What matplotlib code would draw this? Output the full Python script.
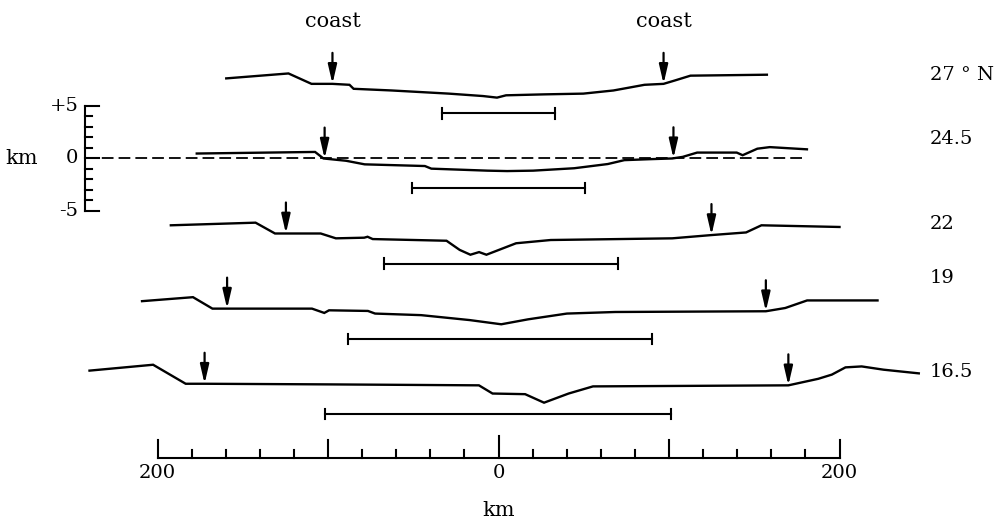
import numpy as np
import matplotlib
matplotlib.use("Agg")
import matplotlib.pyplot as plt

# ---------------- data ----------------
latitudes = ["27 ° N", "24.5", "22", "19", "16.5"]

dist_27 = [-159.7, -123.2, -109.7, -97.4, -87.4, -85.0, -62.6, -29.1, -9.1, -0.9, 4.4,
           26.8, 49.7, 67.4, 76.2, 85.6, 96.8, 103.2, 112.6, 157.4]
elev_27 = [0.52, 0.99, 0.0, 0.0, -0.09, -0.47, -0.63, -0.93, -1.16, -1.31, -1.09,
           -1.0, -0.93, -0.63, -0.37, -0.09, 0.0, 0.31, 0.78, 0.87]

dist_24 = [-177.0, -107.6, -102.7, -89.4, -78.5, -43.2, -39.4, -6.5, 5.0, 20.3, 44.4,
           64.1, 73.8, 88.5, 101.9, 108.0, 116.5, 139.7, 143.2, 151.8, 159.1, 180.9]
elev_24 = [0.47, 0.62, 0.0, -0.22, -0.56, -0.72, -0.97, -1.16, -1.2, -1.16, -0.93,
           -0.53, -0.16, -0.07, 0.0, 0.15, 0.56, 0.56, 0.31, 0.93, 1.08, 0.87]

dist_22 = [-192.2, -142.5, -131.1, -124.7, -104.3, -95.4, -78.8, -76.8, -73.8, -30.5,
           -22.8, -16.5, -11.4, -7.1, 10.3, 30.6, 101.9, 124.9, 145.2, 154.2, 200.0]
elev_22 = [0.84, 1.09, 0.06, 0.06, 0.06, -0.40, -0.34, -0.25, -0.47, -0.63,
           -1.50, -1.96, -1.71, -1.96, -0.87, -0.56, -0.40, -0.09, 0.16, 0.84, 0.68]

dist_19 = [-209.1, -179.2, -167.8, -159.2, -109.4, -102.2, -99.4, -76.6, -72.4, -45.4,
           -16.9, 1.6, 17.3, 40.1, 68.5, 156.8, 168.2, 181.0, 222.3]
elev_19 = [0.82, 1.20, 0.11, 0.11, 0.11, -0.30, -0.05, -0.11, -0.36, -0.51,
           -0.98, -1.38, -0.91, -0.36, -0.21, -0.14, 0.17, 0.89, 0.89]

dist_16 = [-239.9, -202.6, -183.5, -172.4, -99.1, -11.5, -3.5, 15.6, 26.7, 41.1, 55.4,
           170.0, 187.5, 195.5, 203.5, 213.0, 225.8, 246.5]
elev_16 = [1.31, 1.87, 0.06, 0.06, 0.0, -0.09, -0.87, -0.93, -1.74, -0.87, -0.19,
           -0.09, 0.53, 0.93, 1.62, 1.71, 1.40, 1.05]

coast_positions = [[-97.4, 96.8], [-102.0, 102.6], [-124.7, 124.9],
                   [-159.2, 156.8], [-172.4, 170.0]]
bar_extents = [[-33, 33], [-51, 51], [-67, 70], [-88.5, 90], [-102, 101]]

elev_ticks = [5, 0, -5]
elev_tick_labels = ["+5", "0", "-5"]
dist_ticks = list(range(-200, 201, 20))
dist_labels = ["200", "0", "200"]
dist_label_pos = [-200, 0, 200]

profiles_d = [dist_27, dist_24, dist_22, dist_19, dist_16]
profiles_e = [elev_27, elev_24, elev_22, elev_19, elev_16]

# ---------------- layout ----------------
offsets = [7.1, 0.0, -7.2, -14.4, -21.5]    # sea level position of each profile
label_y = [7.9, 1.85, -6.2, -11.4, -20.3]
bar_drop = 2.8
arrow_len = 2.95

FONT = "DejaVu Serif"
fig = plt.figure(figsize=(9.95, 5.21), dpi=100)
ax = fig.add_axes([0, 0, 1, 1])
ax.set_xlim(-292.4, 291.2)
ax.set_ylim(-34.5, 15.08)
ax.axis("off")

lw = 1.7
for i, (d, e) in enumerate(zip(profiles_d, profiles_e)):
    off = offsets[i]
    ax.plot(d, np.array(e) + off, color="black", lw=lw, solid_joinstyle="miter")
    # coast arrows
    for c in coast_positions[i]:
        tip = np.interp(c, d, e) + off
        ax.annotate("", xy=(c, tip), xytext=(c, tip + arrow_len),
                    arrowprops=dict(arrowstyle="-|>,head_length=0.95,head_width=0.22",
                                    color="black", lw=1.6, mutation_scale=12,
                                    shrinkA=0, shrinkB=0))
    # horizontal bar
    x0, x1 = bar_extents[i]
    yb = off - bar_drop
    ax.plot([x0, x1], [yb, yb], color="black", lw=1.5)
    ax.plot([x0, x0], [yb - 0.5, yb + 0.5], color="black", lw=1.5)
    ax.plot([x1, x1], [yb - 0.5, yb + 0.5], color="black", lw=1.5)
    ax.text(253.1, label_y[i], latitudes[i], family=FONT, fontsize=14,
            ha="left", va="center")

# sea-level dashed line for 24.5 profile
ax.plot([-242.5, 180.9], [0, 0], color="black", lw=1.3, dashes=(6.5, 2.8))

# coast labels
for c in coast_positions[0]:
    ax.text(c, 13.0, "coast", family=FONT, fontsize=15, ha="center", va="center")

# left elevation scale
xa = -242.5
ax.plot([xa, xa], [-5, 5], color="black", lw=1.5)
for v in range(-5, 6):
    L = 8.2 if v in elev_ticks else 4.3
    ax.plot([xa, xa + L], [v, v], color="black", lw=1.5)
for v, t in zip(elev_ticks, elev_tick_labels):
    ax.text(xa - 4.0, v, t, family=FONT, fontsize=14, ha="right", va="center")
ax.text(-279.5, 0, "km", family=FONT, fontsize=15, ha="center", va="center")

# bottom distance scale
yb = -28.5
ax.plot([-200, 200], [yb, yb], color="black", lw=1.5)
for t in dist_ticks:
    if t == 0:
        h = 2.05
    elif t % 100 == 0:
        h = 1.75
    else:
        h = 0.75
    ax.plot([t, t], [yb, yb + h], color="black", lw=1.5)
for p, t in zip(dist_label_pos, dist_labels):
    ax.text(p, yb - 1.4, t, family=FONT, fontsize=14, ha="center", va="center")
ax.text(0, -33.5, "km", family=FONT, fontsize=15, ha="center", va="center")

fig.savefig("out.png", dpi=100, facecolor="white")
